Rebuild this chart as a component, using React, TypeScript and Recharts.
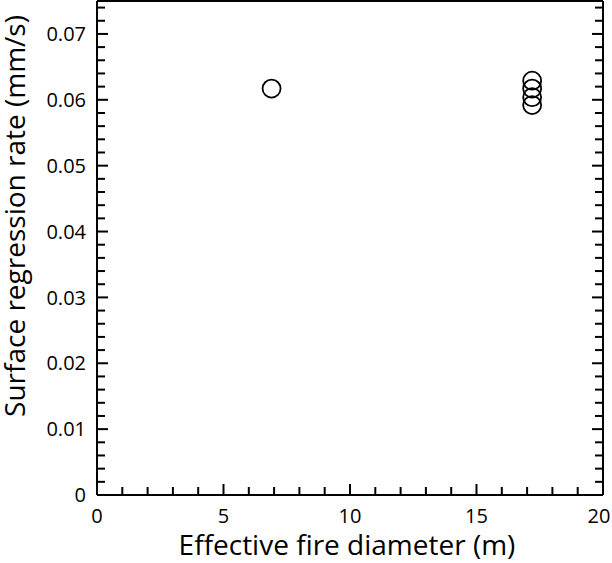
import React from 'react';
import { ScatterChart, Scatter, XAxis, YAxis } from 'recharts';

// effective fire diameter (m) vs surface regression rate (mm/s)
const diameters = [6.9, 17.2, 17.2, 17.2, 17.2];
const regressionRates = [0.0617, 0.0629, 0.0617, 0.0604, 0.0592];

const X_MAJOR = [0, 5, 10, 15, 20];
const X_TICKS = Array.from({ length: 21 }, (_, i) => i);
const Y_MAJOR = [0, 0.01, 0.02, 0.03, 0.04, 0.05, 0.06, 0.07];
const Y_TICKS = Array.from({ length: 38 }, (_, i) => Math.round(i * 2) / 1000);

const points = diameters.map((d, i) => ({ x: d, y: regressionRates[i] }));

const FONT = '"Open Sans", sans-serif';
const MAJOR_LEN = 11;
const MINOR_LEN = 8;

const isXMajor = (v: number) => X_MAJOR.includes(v);
const isYMajor = (v: number) => Y_MAJOR.some((m) => Math.abs(m - v) < 1e-9);

const BottomTick = (props: any) => {
  const { x, y, payload } = props;
  const major = isXMajor(payload.value);
  // last label sits a little inside so it is not cut by the page edge
  const lx = payload.value === 20 ? x - 4 : x;
  return (
    <g>
      <line x1={x} x2={x} y1={y} y2={y - (major ? MAJOR_LEN : MINOR_LEN)} stroke="#000" strokeWidth={2} />
      {major && (
        <text x={lx} y={y + 28} textAnchor="middle" fontFamily={FONT} fontSize={20} fill="#000">
          {payload.value}
        </text>
      )}
    </g>
  );
};

const TopTick = (props: any) => {
  const { x, y, payload } = props;
  const major = isXMajor(payload.value);
  return <line x1={x} x2={x} y1={y} y2={y + (major ? MAJOR_LEN : MINOR_LEN)} stroke="#000" strokeWidth={2} />;
};

const LeftTick = (props: any) => {
  const { x, y, payload } = props;
  const major = isYMajor(payload.value);
  return (
    <g>
      <line x1={x} x2={x + (major ? MAJOR_LEN : MINOR_LEN)} y1={y} y2={y} stroke="#000" strokeWidth={2} />
      {major && (
        <text x={x - 11} y={y} dy="0.36em" textAnchor="end" fontFamily={FONT} fontSize={20} fill="#000">
          {payload.value === 0 ? '0' : payload.value.toFixed(2)}
        </text>
      )}
    </g>
  );
};

const RightTick = (props: any) => {
  const { x, y, payload } = props;
  const major = isYMajor(payload.value);
  return <line x1={x} x2={x - (major ? MAJOR_LEN : MINOR_LEN)} y1={y} y2={y} stroke="#000" strokeWidth={2} />;
};

const OpenCircle = (props: any) => (
  <circle cx={props.cx} cy={props.cy} r={9} fill="none" stroke="#000" strokeWidth={1.8} />
);

export default function App() {
  return (
    <div style={{ position: 'absolute', left: 0, top: 0, width: 612, height: 563, background: '#fff' }}>
      <ScatterChart width={612} height={563} margin={{ top: 0, right: 8, bottom: 0, left: 0 }}>
        <XAxis
          xAxisId="bottom"
          type="number"
          dataKey="x"
          domain={[0, 20]}
          ticks={X_TICKS}
          interval={0}
          height={68}
          tickSize={0}
          tickMargin={0}
          tickLine={false}
          tick={BottomTick}
          axisLine={{ stroke: '#000', strokeWidth: 2 }}
          allowDataOverflow
        />
        <XAxis
          xAxisId="top"
          orientation="top"
          type="number"
          domain={[0, 20]}
          ticks={X_TICKS}
          interval={0}
          height={1}
          tickSize={0}
          tickMargin={0}
          tickLine={false}
          tick={TopTick}
          axisLine={{ stroke: '#000', strokeWidth: 2 }}
          allowDataOverflow
        />
        <YAxis
          yAxisId="left"
          type="number"
          dataKey="y"
          domain={[0, 0.075]}
          ticks={Y_TICKS}
          interval={0}
          width={97}
          tickSize={0}
          tickMargin={0}
          tickLine={false}
          tick={LeftTick}
          axisLine={{ stroke: '#000', strokeWidth: 2 }}
          allowDataOverflow
        />
        <YAxis
          yAxisId="right"
          orientation="right"
          type="number"
          domain={[0, 0.075]}
          ticks={Y_TICKS}
          interval={0}
          width={1}
          tickSize={0}
          tickMargin={0}
          tickLine={false}
          tick={RightTick}
          axisLine={{ stroke: '#000', strokeWidth: 2 }}
          allowDataOverflow
        />
        <Scatter
          xAxisId="bottom"
          yAxisId="left"
          data={points}
          shape={OpenCircle}
          isAnimationActive={false}
        />
        <text x={347} y={555} textAnchor="middle" fontFamily={FONT} fontSize={28} fill="#000">
          Effective fire diameter (m)
        </text>
        <text
          x={25}
          y={216}
          transform="rotate(-90 25 216)"
          textAnchor="middle"
          fontFamily={FONT}
          fontSize={28}
          fill="#000"
        >
          Surface regression rate (mm/s)
        </text>
      </ScatterChart>
    </div>
  );
}
